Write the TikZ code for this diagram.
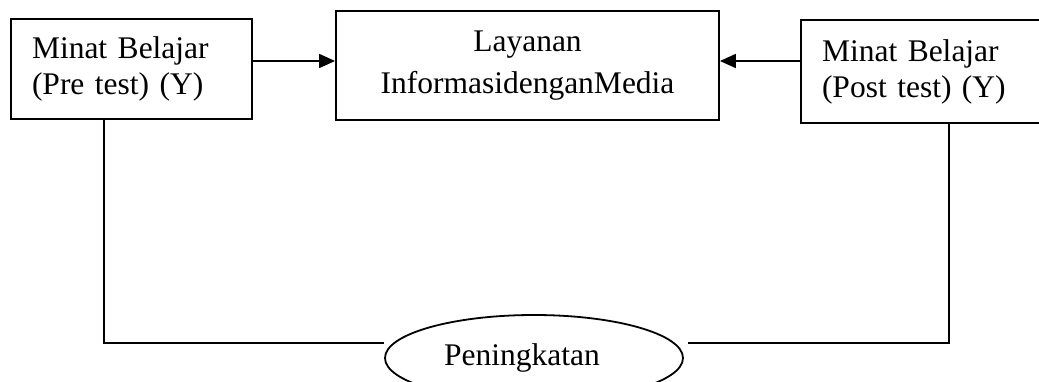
\documentclass[tikz,border=0pt]{standalone}
\usepackage{fontspec}
\setmainfont{Liberation Serif}
\usetikzlibrary{arrows.meta,shapes.geometric}
\begin{document}
\begin{tikzpicture}[x=1pt,y=-1pt,
  every path/.style={line width=1.8pt},
  boxnode/.style={draw,line width=1.8pt,rectangle,inner ysep=0pt,
    font=\fontsize{31.5}{36}\selectfont},
  sidebox/.style={boxnode,align=left,inner xsep=21pt},
  conn/.style={line width=1.8pt},
  arr/.style={conn,-{Triangle[length=16pt,width=14pt]}},
  ovalnode/.style={draw,ellipse,line width=1.8pt,inner sep=0pt,
    minimum width=298pt,minimum height=86pt,
    font=\fontsize{31.5}{36}\selectfont}]
\useasboundingbox (0,0) rectangle (1039,382);
\node[sidebox,text width=199pt,minimum height=100pt] (pre) at (131.5,69)
  {Minat Belajar\\(Pre test) (Y)};
\node[boxnode,align=center,minimum width=383pt,minimum height=109pt,
  font=\fontsize{31.5}{42}\selectfont] (lay) at (527.5,65.5)
  {Layanan\\InformasidenganMedia};
\node[sidebox,text width=200pt,minimum height=103pt] (post) at (922,71.5)
  {Minat Belajar\\(Post test) (Y)};
\node[ovalnode] (pen) at (534,358) {\kern-24pt Peningkatan};
\coordinate (ay) at (0,61);
\coordinate (bl) at (104,343);
\coordinate (br) at (949,343);
\draw[arr] (pre.east |- ay) -- (lay.west |- ay);
\draw[arr] (post.west |- ay) -- (lay.east |- ay);
\draw[conn] (pre.south -| bl) -- (bl) -- (pen.west |- bl);
\draw[conn] (post.south -| br) -- (br) -- ([xshift=4pt]pen.east |- br);
\end{tikzpicture}
\end{document}
